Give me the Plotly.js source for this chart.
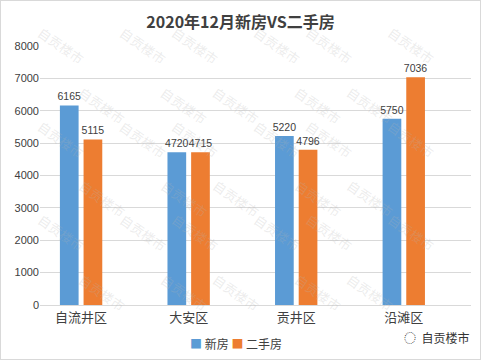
<!DOCTYPE html>
<html><head><meta charset="utf-8">
<script src="https://cdn.plot.ly/plotly-3.0.1.min.js"></script>
<style>
html,body{margin:0;padding:0;background:#fff;}
#wrap{width:481px;height:360px;box-sizing:border-box;border:1px solid #d9d9d9;}
#chart{width:479px;height:358px;}
</style></head>
<body><div id="wrap"><div id="chart"></div></div>
<script>
const categories = ["自流井区", "大安区", "贡井区", "沿滩区"];
const newHouse = [6165, 4720, 5220, 5750];
const secondHand = [5115, 4715, 4796, 7036];
const seriesNames = ["新房", "二手房"];
const seriesColors = ["#5b9bd5", "#ed7d31"];
const yTicks = [0, 1000, 2000, 3000, 4000, 5000, 6000, 7000, 8000];
const titleText = "2020年12月新房VS二手房";
const watermark = "自贡楼市";

const FONT = '"Noto Sans CJK SC", "Noto Sans", sans-serif';
const NUMFONT = '"Liberation Sans", Arial, sans-serif';
const traces = [newHouse, secondHand].map((vals, i) => ({
  type:'bar', name:seriesNames[i], x:categories, y:vals, marker:{color:seriesColors[i]},
  text:vals.map(String), textposition:'outside', cliponaxis:false, constraintext:'none',
  textfont:{size:10.5, color:'#404040', family:NUMFONT}, hoverinfo:'none'
}));

const anns = [];
// faint diagonal watermarks
for (let r = 0; r < 6; r++) {
  for (let c = 0; c < 6; c++) {
    const x = -0.02 + c*0.19 + (r%2)*0.095;
    if (x > 0.98) continue;
    anns.push({xref:'paper', yref:'paper', x:x, y:1.1 - r*0.23,
      text:watermark, showarrow:false, textangle:35,
      font:{size:13, color:'rgba(180,180,180,0.25)', family:FONT}});
  }
}
anns.push({xref:'paper', yref:'paper', x:1.0, y:-0.125, xanchor:'right', yanchor:'middle',
  text:'◌  ' + watermark, showarrow:false, font:{size:12, color:'#333', family:FONT}});
// legend
anns.push({xref:'paper', yref:'paper', x:0.455, y:-0.15, xanchor:'center', yanchor:'middle',
  text:'<span style="color:'+seriesColors[0]+'">■</span> '+seriesNames[0]+' <span style="color:'+seriesColors[1]+'">■</span> '+seriesNames[1],
  showarrow:false, font:{size:12, color:'#404040', family:FONT}});

const layout = {
  width:479, height:358,
  margin:{l:39, r:9, t:45, b:54},
  paper_bgcolor:'#fff', plot_bgcolor:'rgba(0,0,0,0)',
  title:{text:'<b>'+titleText+'</b>', x:0.5, xanchor:'center', y:0.94, yanchor:'middle',
         font:{size:16, color:'#404040', family:FONT}},
  font:{family:FONT, color:'#404040'},
  barmode:'group', bargap:0.56, bargroupgap:0.21,
  xaxis:{type:'category', range:[-0.382, 3.625], showgrid:false, zeroline:false,
         showline:true, linecolor:'#d9d9d9', linewidth:1, ticks:'',
         tickfont:{size:13, color:'#404040', family:FONT}, fixedrange:true},
  yaxis:{range:[0, 8000], tickvals:yTicks, ticktext:yTicks.map(String), showgrid:true,
         gridcolor:'#d9d9d9', zeroline:false, showline:false, ticks:'',
         tickfont:{size:11, color:'#404040', family:NUMFONT}, fixedrange:true},
  showlegend:false,
  annotations:anns
};
Plotly.newPlot('chart', traces, layout, {displayModeBar:false, staticPlot:true});
</script></body></html>
